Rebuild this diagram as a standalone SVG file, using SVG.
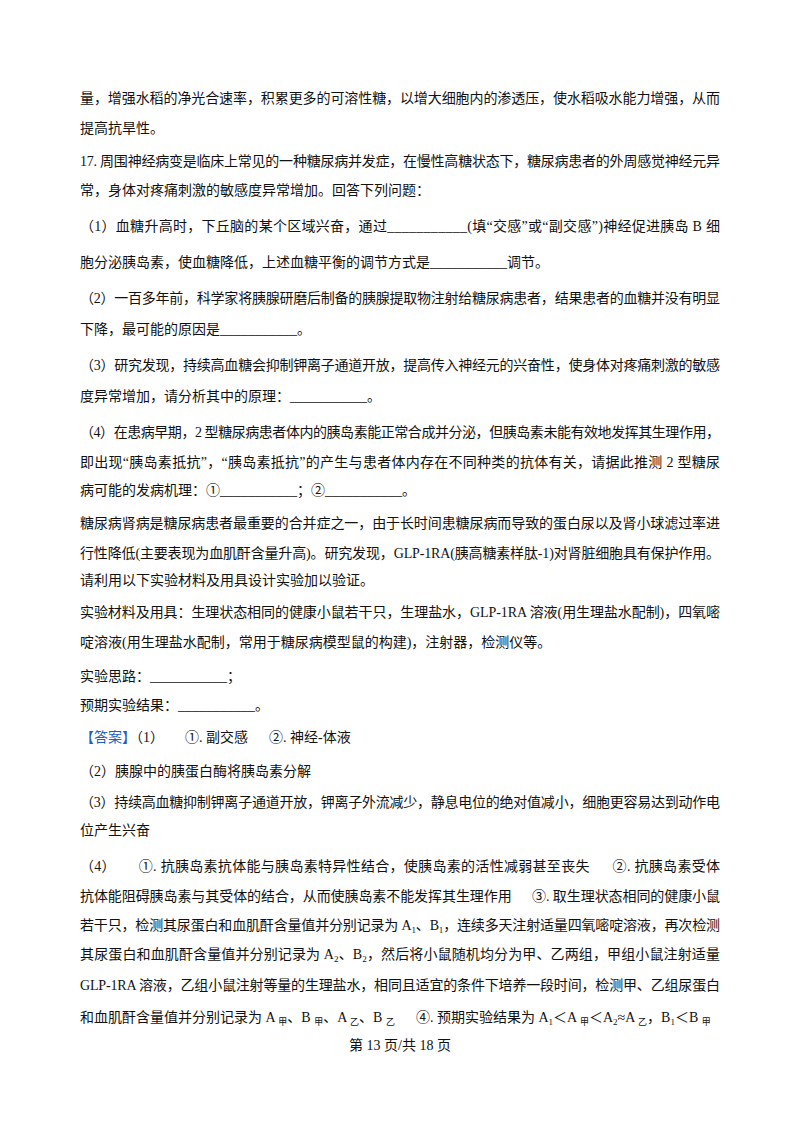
<svg xmlns="http://www.w3.org/2000/svg" width="800" height="1132" viewBox="0 0 800 1132">
<style>
text{font-family:"Liberation Serif","Noto Sans CJK SC",serif;font-size:14px;fill:#111;white-space:pre}
.s{font-size:9px}
.b{fill:#1f5fbf}
</style>
<rect width="800" height="1132" fill="#fff"/>
<g id="body" xml:space="preserve">
<text x="80" y="103" textLength="640" lengthAdjust="spacing">量，增强水稻的净光合速率，积累更多的可溶性糖，以增大细胞内的渗透压，使水稻吸水能力增强，从而</text>
<text x="80" y="133">提高抗旱性。</text>
<text x="80" y="166" textLength="640" lengthAdjust="spacing">17. 周围神经病变是临床上常见的一种糖尿病并发症，在慢性高糖状态下，糖尿病患者的外周感觉神经元异</text>
<text x="80" y="195">常，身体对疼痛刺激的敏感度异常增加。回答下列问题：</text>
<text x="80" y="231" textLength="640" lengthAdjust="spacing">（1）血糖升高时，下丘脑的某个区域兴奋，通过___________(填“交感”或“副交感”)神经促进胰岛 B 细</text>
<text x="80" y="267">胞分泌胰岛素，使血糖降低，上述血糖平衡的调节方式是___________调节。</text>
<text x="80" y="303" textLength="640" lengthAdjust="spacing">（2）一百多年前，科学家将胰腺研磨后制备的胰腺提取物注射给糖尿病患者，结果患者的血糖并没有明显</text>
<text x="80" y="334">下降，最可能的原因是___________。</text>
<text x="80" y="370" textLength="640" lengthAdjust="spacing">（3）研究发现，持续高血糖会抑制钾离子通道开放，提高传入神经元的兴奋性，使身体对疼痛刺激的敏感</text>
<text x="80" y="401">度异常增加，请分析其中的原理：___________。</text>
<text x="80" y="437" textLength="640" lengthAdjust="spacing">（4）在患病早期，2 型糖尿病患者体内的胰岛素能正常合成并分泌，但胰岛素未能有效地发挥其生理作用，</text>
<text x="80" y="467" textLength="640" lengthAdjust="spacing">即出现“胰岛素抵抗”，“胰岛素抵抗”的产生与患者体内存在不同种类的抗体有关，请据此推测 2 型糖尿</text>
<text x="80" y="495">病可能的发病机理：①___________；②___________。</text>
<text x="80" y="528" textLength="640" lengthAdjust="spacing">糖尿病肾病是糖尿病患者最重要的合并症之一，由于长时间患糖尿病而导致的蛋白尿以及肾小球滤过率进</text>
<text x="80" y="558" textLength="640" lengthAdjust="spacing">行性降低(主要表现为血肌酐含量升高)。研究发现，GLP-1RA(胰高糖素样肽-1)对肾脏细胞具有保护作用。</text>
<text x="80" y="585">请利用以下实验材料及用具设计实验加以验证。</text>
<text x="80" y="617" textLength="640" lengthAdjust="spacing">实验材料及用具：生理状态相同的健康小鼠若干只，生理盐水，GLP-1RA 溶液(用生理盐水配制)，四氧嘧</text>
<text x="80" y="647">啶溶液(用生理盐水配制，常用于糖尿病模型鼠的构建)，注射器，检测仪等。</text>
<text x="80" y="681">实验思路：___________；</text>
<text x="80" y="710">预期实验结果：___________。</text>
<text x="80" y="742"><tspan class="b">【答案】</tspan>（1）      ①. 副交感      ②. 神经-体液</text>
<text x="80" y="776">（2）胰腺中的胰蛋白酶将胰岛素分解</text>
<text x="80" y="807" textLength="640" lengthAdjust="spacing">（3）持续高血糖抑制钾离子通道开放，钾离子外流减少，静息电位的绝对值减小，细胞更容易达到动作电</text>
<text x="80" y="835">位产生兴奋</text>
<text x="80" y="871" textLength="640" lengthAdjust="spacing">（4）      ①. 抗胰岛素抗体能与胰岛素特异性结合，使胰岛素的活性减弱甚至丧失      ②. 抗胰岛素受体</text>
<text x="80" y="901" textLength="640" lengthAdjust="spacing">抗体能阻碍胰岛素与其受体的结合，从而使胰岛素不能发挥其生理作用      ③. 取生理状态相同的健康小鼠</text>
<text x="80" y="930" textLength="640" lengthAdjust="spacing">若干只，检测其尿蛋白和血肌酐含量值并分别记录为 A<tspan class="s" dy="3">1</tspan><tspan dy="-3">、B</tspan><tspan class="s" dy="3">1</tspan><tspan dy="-3">，连续多天注射适量四氧嘧啶溶液，再次检测</tspan></text>
<text x="80" y="959" textLength="640" lengthAdjust="spacing">其尿蛋白和血肌酐含量值并分别记录为 A<tspan class="s" dy="3">2</tspan><tspan dy="-3">、B</tspan><tspan class="s" dy="3">2</tspan><tspan dy="-3">，然后将小鼠随机均分为甲、乙两组，甲组小鼠注射适量</tspan></text>
<text x="80" y="990" textLength="640" lengthAdjust="spacing">GLP-1RA 溶液，乙组小鼠注射等量的生理盐水，相同且适宜的条件下培养一段时间，检测甲、乙组尿蛋白</text>
<text x="80" y="1022">和血肌酐含量值并分别记录为 A <tspan class="s" dy="3">甲</tspan><tspan dy="-3">、B </tspan><tspan class="s" dy="3">甲</tspan><tspan dy="-3">、A </tspan><tspan class="s" dy="3">乙</tspan><tspan dy="-3">、B </tspan><tspan class="s" dy="3">乙</tspan><tspan dy="-3">      ④. 预期实验结果为 A</tspan><tspan class="s" dy="3">1</tspan><tspan dy="-3">＜A </tspan><tspan class="s" dy="3">甲</tspan><tspan dy="-3">＜A</tspan><tspan class="s" dy="3">2</tspan><tspan dy="-3">≈A </tspan><tspan class="s" dy="3">乙</tspan><tspan dy="-3">，B</tspan><tspan class="s" dy="3">1</tspan><tspan dy="-3">＜B </tspan><tspan class="s" dy="3">甲</tspan></text>
<text x="400" y="1050" text-anchor="middle">第 13 页/共 18 页</text>
</g>
</svg>
